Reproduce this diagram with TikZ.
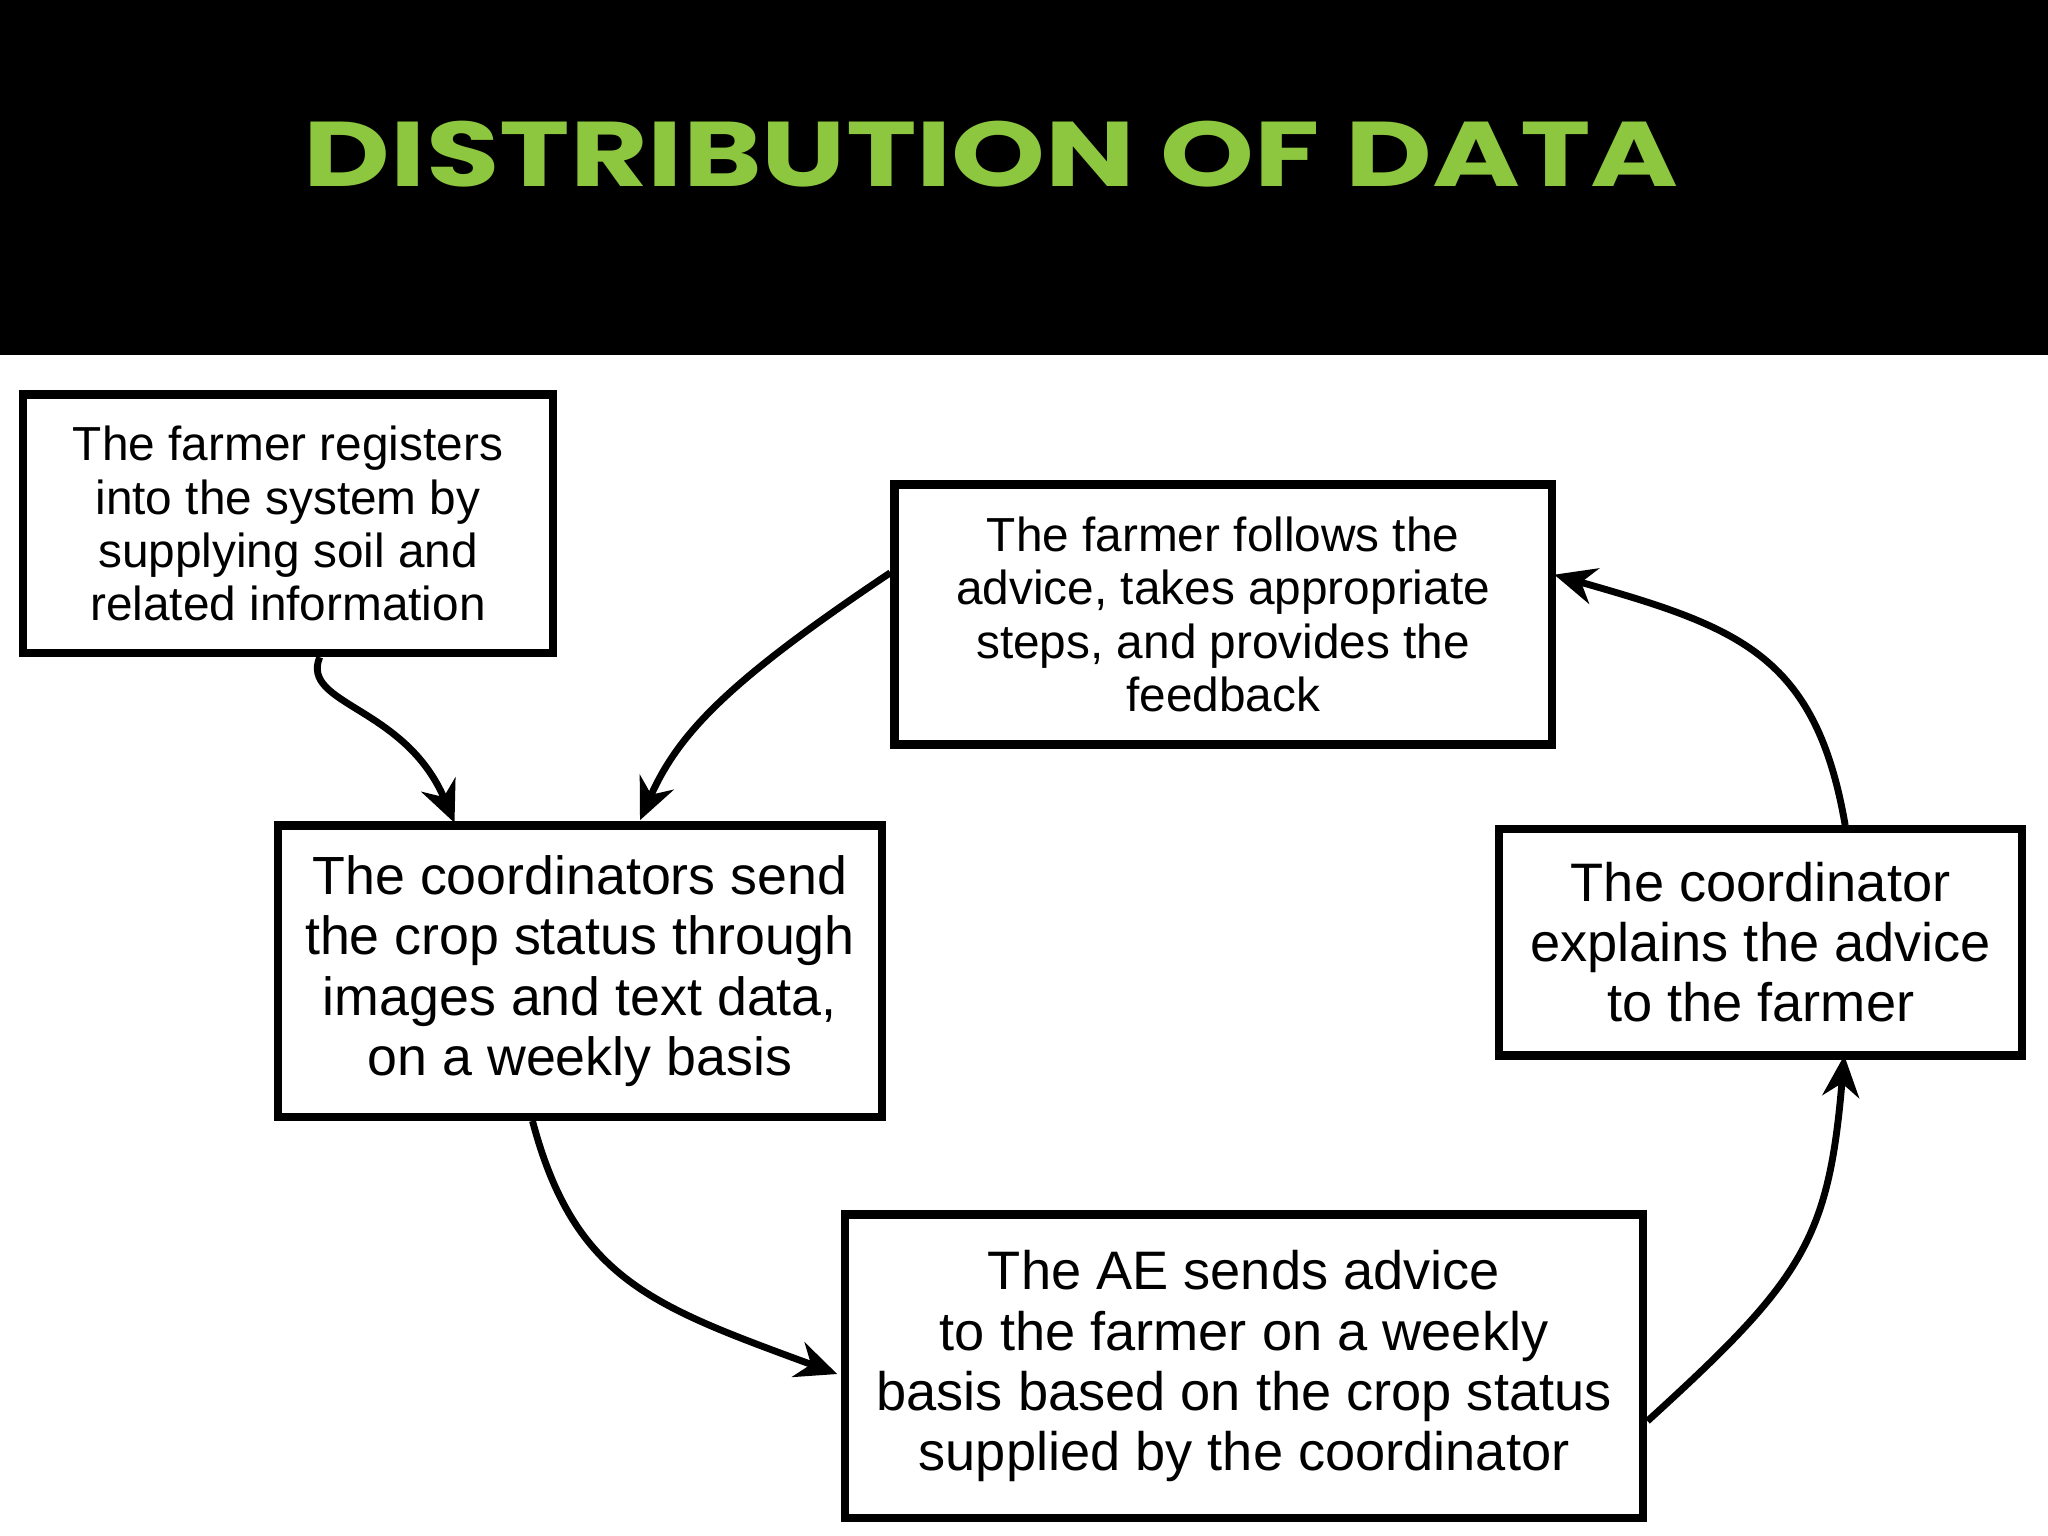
\documentclass[tikz,border=0pt]{standalone}
\usepackage{fontspec}
\setmainfont{Liberation Sans}
\newfontfamily\titlefont{Poppins}
\usetikzlibrary{arrows.meta}
\definecolor{tgreen}{HTML}{8DC63F}
\tikzset{box/.style={draw,line width=1.8pt,align=center,inner sep=0pt},
 conn/.style={line width=1.5pt,-{Stealth[length=9pt,width=8pt]}}}
\begin{document}
\begin{tikzpicture}[x=0.01cm,y=-0.01cm]
\useasboundingbox (0,0) rectangle (1568,1176);
\fill[black] (0,0) rectangle (1568,272);
\node[text=tgreen,font=\titlefont\bfseries\fontsize{20pt}{22pt}\selectfont,xscale=1.3] (title) at (759,118) {DISTRIBUTION OF DATA};
\node[box,minimum width=4.05cm,minimum height=1.98cm,font=\fontsize{10.4pt}{11.6pt}\selectfont] (b1) at (220.5,401) {The farmer registers\\into the system by\\supplying soil and\\related information};
\node[box,minimum width=5.03cm,minimum height=1.99cm,font=\fontsize{10.4pt}{11.6pt}\selectfont] (b2) at (936.5,470.5) {The farmer follows the\\advice, takes appropriate\\steps, and provides the\\feedback};
\node[box,minimum width=4.62cm,minimum height=2.23cm,font=\fontsize{11.7pt}{13.1pt}\selectfont] (b3) at (444,743.5) {The coordinators send\\the crop status through\\images and text data,\\on a weekly basis};
\node[box,minimum width=4.0cm,minimum height=1.73cm,font=\fontsize{11.8pt}{13.1pt}\selectfont] (b4) at (1348,721.5) {The coordinator\\explains the advice\\to the farmer};
\node[box,minimum width=6.11cm,minimum height=2.32cm,font=\fontsize{11.8pt}{13.1pt}\selectfont] (b5) at (952.5,1046) {The AE sends advice\\to the farmer on a weekly\\basis based on the crop status\\supplied by the coordinator};
\draw[conn] (b1.south west)++(230,0) coordinate (s1) .. controls (230,540) and (310,540) .. (348,630);
\draw[conn] (b2.west)++(0,-32) .. controls (560,520) and (520,560) .. (490,628);
\draw[conn] (b3.south west)++(198,0) .. controls (440,980) and (500,1000) .. (641,1052);
\draw[conn] (b5.east)++(0,42) .. controls (1380,980) and (1400,950) .. (1412,808);
\draw[conn] (b4.north west)++(268,0) .. controls (1390,500) and (1330,480) .. (1190,440);
\end{tikzpicture}
\end{document}
